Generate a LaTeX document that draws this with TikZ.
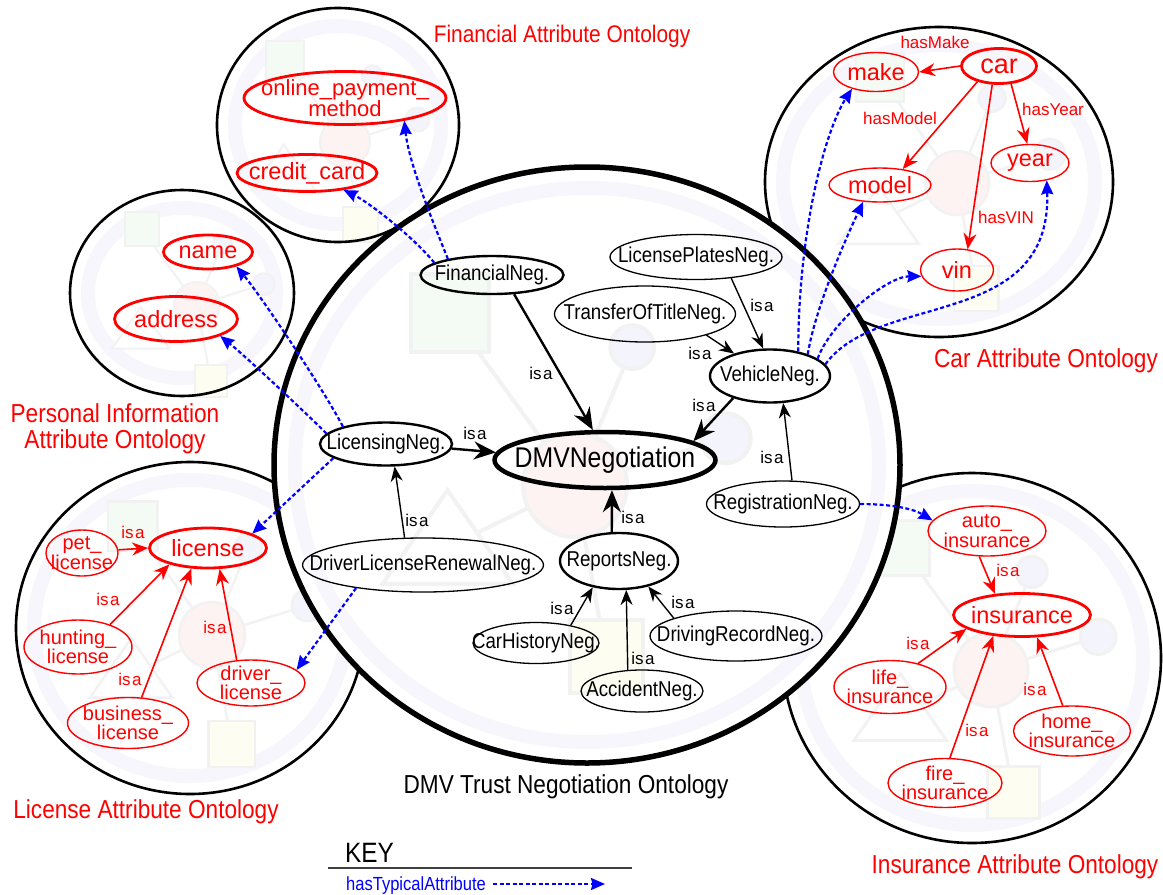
\documentclass[tikz,border=0pt]{standalone}
\usepackage{fontspec}
\setmainfont{Liberation Sans}
\newfontfamily\narrowsans{Liberation Sans}[FakeStretch=0.87]
\usetikzlibrary{arrows.meta,shapes.geometric}

\definecolor{ored}{RGB}{255,0,0}
\definecolor{oblue}{RGB}{0,0,255}
\definecolor{ringlav}{RGB}{247,246,253}
\definecolor{iconpink}{RGB}{253,243,243}
\definecolor{icongreen}{RGB}{244,251,244}
\definecolor{iconyellow}{RGB}{253,253,241}
\definecolor{iconlav}{RGB}{244,244,252}
\definecolor{icongray}{RGB}{242,242,242}

\newcommand{\isatext}{is\kern1.6pt a}

% faint ontology emblem: cx, cy, scale, stroke width
\newcommand{\ontoicon}[4]{%
  \begin{scope}[shift={(#1,#2)}, scale=#3]
    \draw[icongray, line width=#4pt] (0,0) -- (1.1,-2.65) (0,0) -- (2.9,-0.9)
      (0,0) -- (-2.4,-3.3) (0,0) -- (-2.45,1.2) (0,0) -- (0.6,3.3);
    \filldraw[fill=icongreen, draw=icongray, line width=#4pt] (-3.15,-4.05) rectangle (-1.65,-2.55);
    \filldraw[fill=iconyellow, draw=icongray, line width=#4pt] (-0.1,2.6) rectangle (1.3,4.0);
    \filldraw[fill=white, draw=icongray, line width=#4pt] (-2.45,0.1) -- (-3.7,1.9) -- (-1.2,1.9) -- cycle;
    \filldraw[fill=iconlav, draw=icongray, line width=#4pt] (1.1,-2.65) circle (0.42);
    \filldraw[fill=iconlav, draw=icongray, line width=#4pt] (2.9,-0.9) circle (0.48);
    \filldraw[fill=iconpink, draw=icongray, line width=#4pt] (0,0) circle (1);
  \end{scope}}

% ontology disc: cx, cy, rx, ry, ring rx, ring ry
\newcommand{\ontodisc}[6]{%
  \fill[white] (#1,#2) ellipse [x radius=#3pt, y radius=#4pt];
  \draw[ringlav, line width=14pt] (#1,#2) ellipse [x radius=#5pt, y radius=#6pt];}

\tikzset{
  neg/.style={ellipse, draw, line width=1.3pt, inner xsep=-60pt, inner ysep=-25pt,
    font=\narrowsans\fontsize{21.5}{22}\selectfont},
  negmid/.style={neg, line width=2.4pt},
  dmvnode/.style={neg, line width=4.5pt, font=\narrowsans\fontsize{28.5}{29}\selectfont},
  attr/.style={ellipse, draw=ored, text=ored, line width=1.4pt, inner xsep=-60pt, inner ysep=-25pt,
    font=\fontsize{23.5}{24}\selectfont},
  attrkey/.style={attr, line width=2.8pt},
  attrtwo/.style={attr, align=center, font=\fontsize{20}{17.5}\selectfont},
  isared/.style={text=ored, inner sep=0pt, font=\fontsize{17}{17}\selectfont},
  isablk/.style={text=black, inner sep=0pt, font=\fontsize{17}{17}\selectfont},
  title/.style={text=ored, anchor=base, inner sep=0pt, font=\narrowsans\fontsize{26}{26}\selectfont},
  redarr/.style={draw=ored, line width=1.6pt, -{Stealth[length=16pt,width=13pt]}},
  blkarr/.style={draw=black, line width=1.4pt, -{Stealth[length=15pt,width=12pt]}},
  blkbig/.style={draw=black, line width=2.4pt, -{Stealth[length=22pt,width=18pt]}},
  hta/.style={draw=oblue, line width=2.2pt, dash pattern=on 4pt off 2.5pt,
    -{Stealth[length=14pt,width=12pt,inset=1.5pt]}}
}

\begin{document}
\begin{tikzpicture}[x=1pt,y=-1pt]
\useasboundingbox (0,0) rectangle (1163,895);
\fill[white] (0,0) rectangle (1163,895);

% ---- attribute ontology discs ----
\ontodisc{338}{125}{121}{117}{103}{99}
\ontoicon{345}{142}{25}{2}
\draw[line width=2.6pt] (338,125) ellipse [x radius=121pt, y radius=117pt];

\ontodisc{182}{293}{112}{103}{94}{85}
\ontoicon{197}{305}{23}{2}
\draw[line width=2.6pt] (182,293) ellipse [x radius=112pt, y radius=103pt];

\ontodisc{939}{182}{174}{155}{156}{137}
\ontoicon{957}{183}{32}{2.5}
\draw[line width=2.6pt] (939,182) ellipse [x radius=174pt, y radius=155pt];

\ontodisc{190}{628}{174}{166}{156}{148}
\ontoicon{212}{635}{33}{2.5}
\draw[line width=2.6pt] (190,628) ellipse [x radius=174pt, y radius=166pt];

\ontodisc{972}{658}{189}{185}{171}{167}
\ontoicon{991}{670}{37}{3}
\draw[line width=2.6pt] (972,658) ellipse [x radius=189pt, y radius=185pt];

% ---- central negotiation ontology disc ----
\ontodisc{587}{465}{313}{298}{292}{277}
\ontoicon{575}{485}{52}{4}
\draw[line width=5.5pt] (587,465) ellipse [x radius=313pt, y radius=298pt];

% ---- titles ----
\node[title, font=\narrowsans\fontsize{24}{24}\selectfont] (tfin) at (562,42) {Financial Attribute Ontology};
\node[title] (tcar) at (1046,367) {Car Attribute Ontology};
\node[title] (tper1) at (115,422) {Personal Information};
\node[title] (tper2) at (115,448) {Attribute Ontology};
\node[title] (tlic) at (146,818) {License Attribute Ontology};
\node[title] (tins) at (1015,873) {Insurance Attribute Ontology};
\node[title, text=black] (tdmv) at (566,793) {DMV Trust Negotiation Ontology};

% ---- negotiation concepts ----
\node[negmid, minimum width=143pt, minimum height=38pt] (fin) at (492,275) {FinancialNeg.};
\node[neg, minimum width=172pt, minimum height=45pt] (lpn) at (696,257) {LicensePlatesNeg.};
\node[neg, minimum width=181pt, minimum height=56pt] (tot) at (645,314) {TransferOfTitleNeg.};
\node[negmid, minimum width=120pt, minimum height=53pt] (veh) at (770,376) {VehicleNeg.};
\node[negmid, minimum width=132pt, minimum height=43pt] (licn) at (386,444) {LicensingNeg.};
\node[dmvnode, minimum width=221pt, minimum height=56pt] (dmv) at (605,460) {DMVNegotiation};
\node[neg, minimum width=153pt, minimum height=46pt] (reg) at (783,504) {RegistrationNeg.};
\node[neg, minimum width=241pt, minimum height=54pt] (dlr) at (423,565) {DriverLicenseRenewalNeg.};
\node[negmid, minimum width=118pt, minimum height=56pt] (rep) at (619,561) {ReportsNeg.};
\node[neg, minimum width=126pt, minimum height=41pt] (chn) at (536,643) {CarHistoryNeg.};
\node[neg, minimum width=172pt, minimum height=50pt] (drn) at (736,636) {DrivingRecordNeg.};
\node[neg, minimum width=122pt, minimum height=42pt] (acc) at (642,691) {AccidentNeg.};

% ---- attribute concepts ----
\node[attrkey, minimum width=202pt, minimum height=53pt, align=center, font=\fontsize{22}{21}\selectfont] (nopm) at (345,98) {online\_payment\_\\method};
\node[attrkey, minimum width=140pt, minimum height=37pt] (ncc) at (307,173) {credit\_card};
\node[attrkey, minimum width=89pt, minimum height=34pt] (nname) at (208,252) {name};
\node[attrkey, minimum width=123pt, minimum height=45pt] (naddr) at (176,319) {address};
\node[attrkey, minimum width=75pt, minimum height=35pt, font=\fontsize{27}{27}\selectfont] (ncar) at (999,66) {car};
\node[attr, minimum width=85pt, minimum height=39pt] (nmake) at (876,72) {make};
\node[attr, minimum width=102pt, minimum height=34pt] (nmodel) at (880,185) {model};
\node[attr, minimum width=78pt, minimum height=37pt] (nyear) at (1030,163) {year};
\node[attr, minimum width=73pt, minimum height=42pt] (nvin) at (957,270) {vin};
\node[attrkey, minimum width=117pt, minimum height=40pt] (nlic) at (208,548) {license};
\node[attrtwo, minimum width=72pt, minimum height=46pt] (npet) at (82,553) {pet\_\\license};
\node[attrtwo, minimum width=108pt, minimum height=54pt] (nhunt) at (78,647) {hunting\_\\license};
\node[attrtwo, minimum width=121pt, minimum height=51pt] (nbus) at (128,723) {business\_\\license};
\node[attrtwo, minimum width=108pt, minimum height=46pt] (ndrv) at (251,683) {driver\_\\license};
\node[attrtwo, minimum width=118pt, minimum height=50pt] (nauto) at (987,531) {auto\_\\insurance};
\node[attrkey, minimum width=137pt, minimum height=43pt] (nins) at (1022,615) {insurance};
\node[attrtwo, minimum width=112pt, minimum height=53pt] (nlife) at (890,687) {life\_\\insurance};
\node[attrtwo, minimum width=114pt, minimum height=49pt] (nfire) at (945,783) {fire\_\\insurance};
\node[attrtwo, minimum width=117pt, minimum height=50pt] (nhome) at (1072,731) {home\_\\insurance};

% ---- isa links of the negotiation ontology ----
\draw[blkbig] (fin.319) -- (dmv.112);
\draw[blkarr] (lpn.329) -- (veh.104);
\draw[blkarr] (tot.341) -- (veh.148);
\draw[blkbig] (veh.211) -- (dmv.12);
\draw[blkbig] (licn.356) -- (dmv.176);
\draw[blkarr] (dlr.124) -- (licn.291);
\draw[blkbig] (rep.104) -- (dmv.283);
\draw[blkarr] (chn.27) -- (rep.225);
\draw[blkarr] (acc.124) -- (rep.284);
\draw[blkarr] (drn.164) -- (rep.319);
\draw[blkarr] (reg.69) -- (veh.296);

\node[isablk] (lfin) at (541,373) {\isatext};
\node[isablk] (llpn) at (762,305) {\isatext};
\node[isablk] (ltot) at (700,353) {\isatext};
\node[isablk] (lveh) at (704,405) {\isatext};
\node[isablk] (llicn) at (475,433) {\isatext};
\node[isablk] (ldlr) at (417,520) {\isatext};
\node[isablk] (lrep) at (633,517) {\isatext};
\node[isablk] (lreg) at (772,457) {\isatext};
\node[isablk] (lchn) at (562,608) {\isatext};
\node[isablk] (ldrn) at (683,602) {\isatext};
\node[isablk] (lacc) at (643,658) {\isatext};

% ---- attribute ontology relations ----
\draw[redarr] (ncar.west) -- (nmake.east);
\draw[redarr] (ncar.216) -- (nmodel.35);
\draw[redarr] (ncar.250) -- (nvin.63);
\draw[redarr] (ncar.304) -- (nyear.98);
\node[isared] (hmake) at (935,42) {hasMake};
\node[isared] (hmodel) at (900,118) {hasModel};
\node[isared] (hyear) at (1053,109) {hasYear};
\node[isared] (hvin) at (1006,217) {hasVIN};

\draw[redarr] (npet.5) -- (nlic.west);
\draw[redarr] (nhunt.35) -- (nlic.203);
\draw[redarr] (nbus.62) -- (nlic.231);
\draw[redarr] (ndrv.122) -- (nlic.299);
\node[isared] (lpet) at (133,532) {\isatext};
\node[isared] (lhunt) at (108,599) {\isatext};
\node[isared] (lbus) at (130,679) {\isatext};
\node[isared] (ldrv) at (215,627) {\isatext};

\draw[redarr] (nauto.253) -- (nins.142);
\draw[redarr] (nlife.40) -- (nins.194);
\draw[redarr] (nfire.79) -- (nins.216);
\draw[redarr] (nhome.110) -- (nins.304);
\node[isared] (lauto) at (1008,570) {\isatext};
\node[isared] (llife) at (918,643) {\isatext};
\node[isared] (lfire) at (977,730) {\isatext};
\node[isared] (lhome) at (1035,689) {\isatext};

% ---- hasTypicalAttribute links ----
\draw[hta] (fin.168) .. controls +(-20,-25) and +(25,12) .. (ncc.335);
\draw[hta] (fin.160) .. controls +(-12,-30) and +(5,45) .. (nopm.339);
\draw[hta] (licn.158) .. controls +(-18,-35) and +(25,30) .. (nname.333);
\draw[hta] (licn.170) .. controls +(-20,-20) and +(25,20) .. (naddr.339);
\draw[hta] (licn.195) -- (nlic.18);
\draw[hta] (dlr.199) -- (ndrv.16);
\draw[hta] (reg.east) .. controls +(30,0) and +(-20,-12) .. (nauto.169);
\draw[hta] (veh.41) .. controls +(0,-120) and +(-27,42) .. (nmake.215);
\draw[hta] (veh.30) .. controls +(8,-50) and +(-12,25) .. (nmodel.225);
\draw[hta] (veh.20) .. controls +(12,-35) and +(-35,0) .. (nvin.190);
\draw[hta] (veh.12) .. controls +(53,-73) and +(5,150) .. (nyear.314);

% ---- key ----
\node[anchor=base west, inner sep=0pt, font=\narrowsans\fontsize{28}{28}\selectfont] (keyhd) at (345,862) {KEY};
\coordinate (keyl) at (328,868);
\coordinate (keyr) at (632,868);
\draw[line width=1.3pt, black!75] (keyl) -- (keyr);
\node[anchor=base west, inner sep=0pt, text=oblue, font=\narrowsans\fontsize{19}{19}\selectfont] (keytxt) at (346,890) {hasTypicalAttribute};
\coordinate (keyend) at (605,884);
\draw[hta] ([xshift=7pt]keytxt.east |- keyend) -- (keyend);
\end{tikzpicture}
\end{document}
